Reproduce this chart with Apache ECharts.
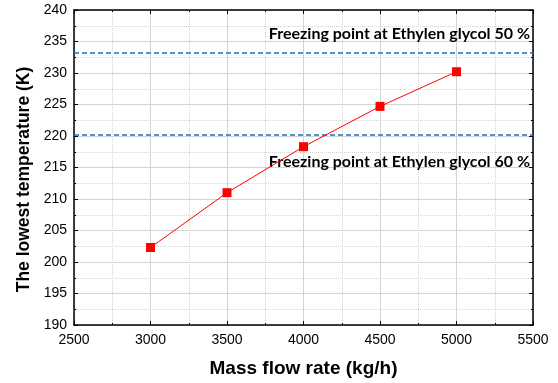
<!DOCTYPE html>
<html><head><meta charset="utf-8">
<script src="https://cdn.jsdelivr.net/npm/echarts@6/dist/echarts.min.js"></script>
<style>html,body{margin:0;padding:0;background:#fff}#c{width:558px;height:383px}</style>
</head><body><div id="c"></div>
<script>
const massFlow = [3000, 3500, 4000, 4500, 5000];
const lowestTemp = [202.3, 211.0, 218.3, 224.7, 230.2];
const freezingLines = [
  {name: 'Freezing point at Ethylen glycol 50 %', value: 233.2, pos: 'insideEndTop'},
  {name: 'Freezing point at Ethylen glycol 60 %', value: 220.2, pos: 'insideEndBottom'}
];
const chart = echarts.init(document.getElementById('c'));
const axisCommon = {
  axisLine: {show: true, onZero: false, lineStyle: {color: '#000', width: 1.5}},
  axisTick: {show: true, inside: true, length: 4, lineStyle: {color: '#000'}},
  minorTick: {show: true, splitNumber: 2, length: 2, lineStyle: {color: '#000'}},
  splitLine: {show: true, lineStyle: {color: '#d4d4d4', width: 1}},
  minorSplitLine: {show: true, lineStyle: {color: '#d4d4d4', type: [1, 1], width: 1}}
};
chart.setOption({
  animation: false,
  grid: {left: 74, right: 25, top: 10, bottom: 57},
  xAxis: [{
    type: 'value', min: 2500, max: 5500, interval: 500,
    name: 'Mass flow rate (kg/h)', nameLocation: 'middle', nameGap: 34,
    nameTextStyle: {fontFamily: 'Liberation Sans', fontWeight: 'bold', fontSize: 19, color: '#000'},
    axisLabel: {fontFamily: 'Liberation Sans', fontSize: 14, color: '#000', margin: 8, formatter: v => String(v)},
    ...axisCommon
  }, {
    type: 'value', position: 'top', min: 2500, max: 5500, interval: 500,
    axisLabel: {show: false}, ...axisCommon, splitLine: {show: false}, minorSplitLine: {show: false}
  }],
  yAxis: [{
    type: 'value', min: 190, max: 240, interval: 5,
    name: 'The lowest temperature (K)', nameLocation: 'middle', nameGap: 41,
    nameTextStyle: {fontFamily: 'Liberation Sans', fontWeight: 'bold', fontSize: 17.5, color: '#000', padding: [0, 24, 0, 0]},
    axisLabel: {fontFamily: 'Liberation Sans', fontSize: 14, color: '#000', margin: 7},
    ...axisCommon
  }, {
    type: 'value', position: 'right', min: 190, max: 240, interval: 5,
    axisLabel: {show: false}, ...axisCommon, splitLine: {show: false}, minorSplitLine: {show: false}
  }],
  series: [{
    type: 'line',
    data: massFlow.map((x, i) => [x, lowestTemp[i]]),
    symbol: 'rect', symbolSize: 9,
    lineStyle: {color: '#ff0000', width: 1},
    itemStyle: {color: '#ff0000'},
    z: 5,
    markLine: {
      silent: true, symbol: 'none',
      lineStyle: {color: '#1f6fbf', type: [5, 3], width: 1.5},
      data: freezingLines.map(f => ({
        yAxis: f.value,
        label: {show: true, position: f.pos, formatter: f.name,
          fontFamily: 'Lato', fontWeight: 'bold', fontSize: 16, color: '#000',
          distance: f.pos === 'insideEndTop' ? [3, 11] : [3, 19]}
      }))
    }
  }]
});
</script></body></html>
